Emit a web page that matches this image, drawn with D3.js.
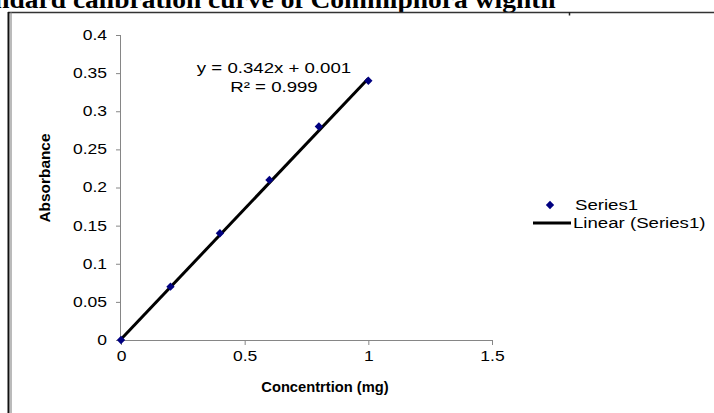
<!DOCTYPE html>
<html>
<head>
<meta charset="utf-8">
<script src="https://cdn.jsdelivr.net/npm/d3@7"></script>
<style>
	body { margin: 0; background: #fff; }
	svg { display: block; }
	text { font-family: "Liberation Sans", Arial, sans-serif; }
</style>
</head>
<body>
<div id="Chart1"></div>
<script>
// data
var concentration = [0, 0.2, 0.4, 0.6, 0.8, 1];
var absorbance = [0, 0.07, 0.14, 0.21, 0.28, 0.34];
var xTicks = [0, 0.5, 1, 1.5];
var yTicks = [0, 0.05, 0.1, 0.15, 0.2, 0.25, 0.3, 0.35, 0.4];
var trendSlope = 0.342, trendIntercept = 0.001;
var trendRange = [0, 1];
var legendLabels = ["Series1", "Linear (Series1)"];

var width = 714, height = 413;
var margin = {top: 35, left: 121, right: 222, bottom: 73};

// the source chart has its text drawn wide, so stretch it sideways
function stretch(sel, k) {
	sel.each(function() {
		var len = this.getComputedTextLength();
		d3.select(this).attr("textLength", len * k).attr("lengthAdjust", "spacingAndGlyphs");
	});
}

var svg = d3.select("#Chart1")
	.append("svg")
	.attr("width", width)
	.attr("height", height)

// title, clipped by the page top
svg.append("text")
	.attr("x", -44)
	.attr("y", 8)
	.style("font-family", "'Liberation Serif', 'Times New Roman', serif")
	.style("font-weight", "bold")
	.style("font-size", "25px")
	.text("Standard calibration curve of Commiphora wightii")
	.call(stretch, 1.1)

// frame
svg.append("line").attr("x1", 8).attr("x2", width).attr("y1", 12.5).attr("y2", 12.5)
	.attr("stroke", "#333").attr("stroke-width", 1.3)
svg.append("line").attr("x1", 8.5).attr("x2", 8.5).attr("y1", 12).attr("y2", height)
	.attr("stroke", "#111").attr("stroke-width", 2)
svg.append("line").attr("x1", 11).attr("x2", 11).attr("y1", 12).attr("y2", height)
	.attr("stroke", "#777").attr("stroke-width", 1)
svg.append("line").attr("x1", 569.5).attr("x2", 569.5).attr("y1", 12).attr("y2", 15.5)
	.attr("stroke", "#222").attr("stroke-width", 1.5)

var x = d3.scaleLinear()
	.domain([0, 1.5])
	.range([margin.left, width - margin.right]);
var y = d3.scaleLinear()
	.domain([0, 0.4])
	.range([height - margin.bottom, margin.top]);

var xAxis = svg.append("g")
	.attr("transform", "translate(0," + y(0) + ")")
	.call(d3.axisBottom(x).tickValues(xTicks).tickSize(5).tickPadding(6).tickFormat(d3.format("")));
var yAxis = svg.append("g")
	.attr("transform", "translate(" + x(0) + ",0)")
	.call(d3.axisLeft(y).tickValues(yTicks).tickSize(5).tickPadding(9).tickFormat(d3.format("")));

[xAxis, yAxis].forEach(function(g) {
	g.selectAll(".tick line").attr("stroke", "#868686");
	g.selectAll(".tick text")
		.attr("fill", "#000")
		.style("font-family", "'Liberation Sans', Arial, sans-serif")
		.style("font-size", "14px")
		.call(stretch, 1.25);
});
// plain domain lines, no end stubs
xAxis.select(".domain").attr("stroke", "#868686").attr("d", "M" + x(0) + ",0.5H" + x(1.5));
yAxis.select(".domain").attr("stroke", "#868686").attr("d", "M-0.5," + y(0.4) + "V" + y(0));

// axis titles
svg.append("text")
	.attr("x", 325)
	.attr("y", 392)
	.attr("text-anchor", "middle")
	.style("font-weight", "bold")
	.style("font-size", "14px")
	.text("Concentrtion (mg)")
	.call(stretch, 1.05)
svg.append("text")
	.attr("transform", "translate(50," + 178 + ") rotate(-90)")
	.attr("text-anchor", "middle")
	.style("font-weight", "bold")
	.style("font-size", "14px")
	.text("Absorbance")
	.call(stretch, 1.1)

// trend line
svg.append("path")
	.datum(trendRange)
	.attr("fill", "none")
	.attr("stroke", "#000")
	.attr("stroke-width", 3)
	.attr("d", d3.line()
		.x(function(d) { return x(d); })
		.y(function(d) { return y(trendSlope * d + trendIntercept); }))

// points
var diamond = d3.symbol().type(d3.symbolDiamond2).size(44);
svg.selectAll(".pt")
	.data(concentration)
	.enter()
	.append("path")
	.attr("class", "pt")
	.attr("transform", function(d, i) { return "translate(" + x(d) + "," + y(absorbance[i]) + ")"; })
	.attr("d", diamond)
	.attr("fill", "#000080")

// equation
svg.append("text")
	.attr("x", 274).attr("y", 73)
	.attr("text-anchor", "middle")
	.style("font-size", "14px")
	.text("y = " + trendSlope + "x + " + trendIntercept)
	.call(stretch, 1.33)
svg.append("text")
	.attr("x", 274).attr("y", 92)
	.attr("text-anchor", "middle")
	.style("font-size", "14px")
	.text("R² = 0.999")
	.call(stretch, 1.33)

// legend
var legend = svg.append("g").attr("transform", "translate(550,205)");
legend.append("path")
	.attr("d", diamond)
	.attr("fill", "#000080")
legend.append("text")
	.attr("x", 25).attr("y", 5)
	.style("font-size", "14px")
	.text(legendLabels[0])
	.call(stretch, 1.33)
legend.append("line")
	.attr("x1", -17).attr("x2", 21).attr("y1", 18).attr("y2", 18)
	.attr("stroke", "#000").attr("stroke-width", 3)
legend.append("text")
	.attr("x", 23).attr("y", 23)
	.style("font-size", "14px")
	.text(legendLabels[1])
	.call(stretch, 1.33)
</script>
</body>
</html>
